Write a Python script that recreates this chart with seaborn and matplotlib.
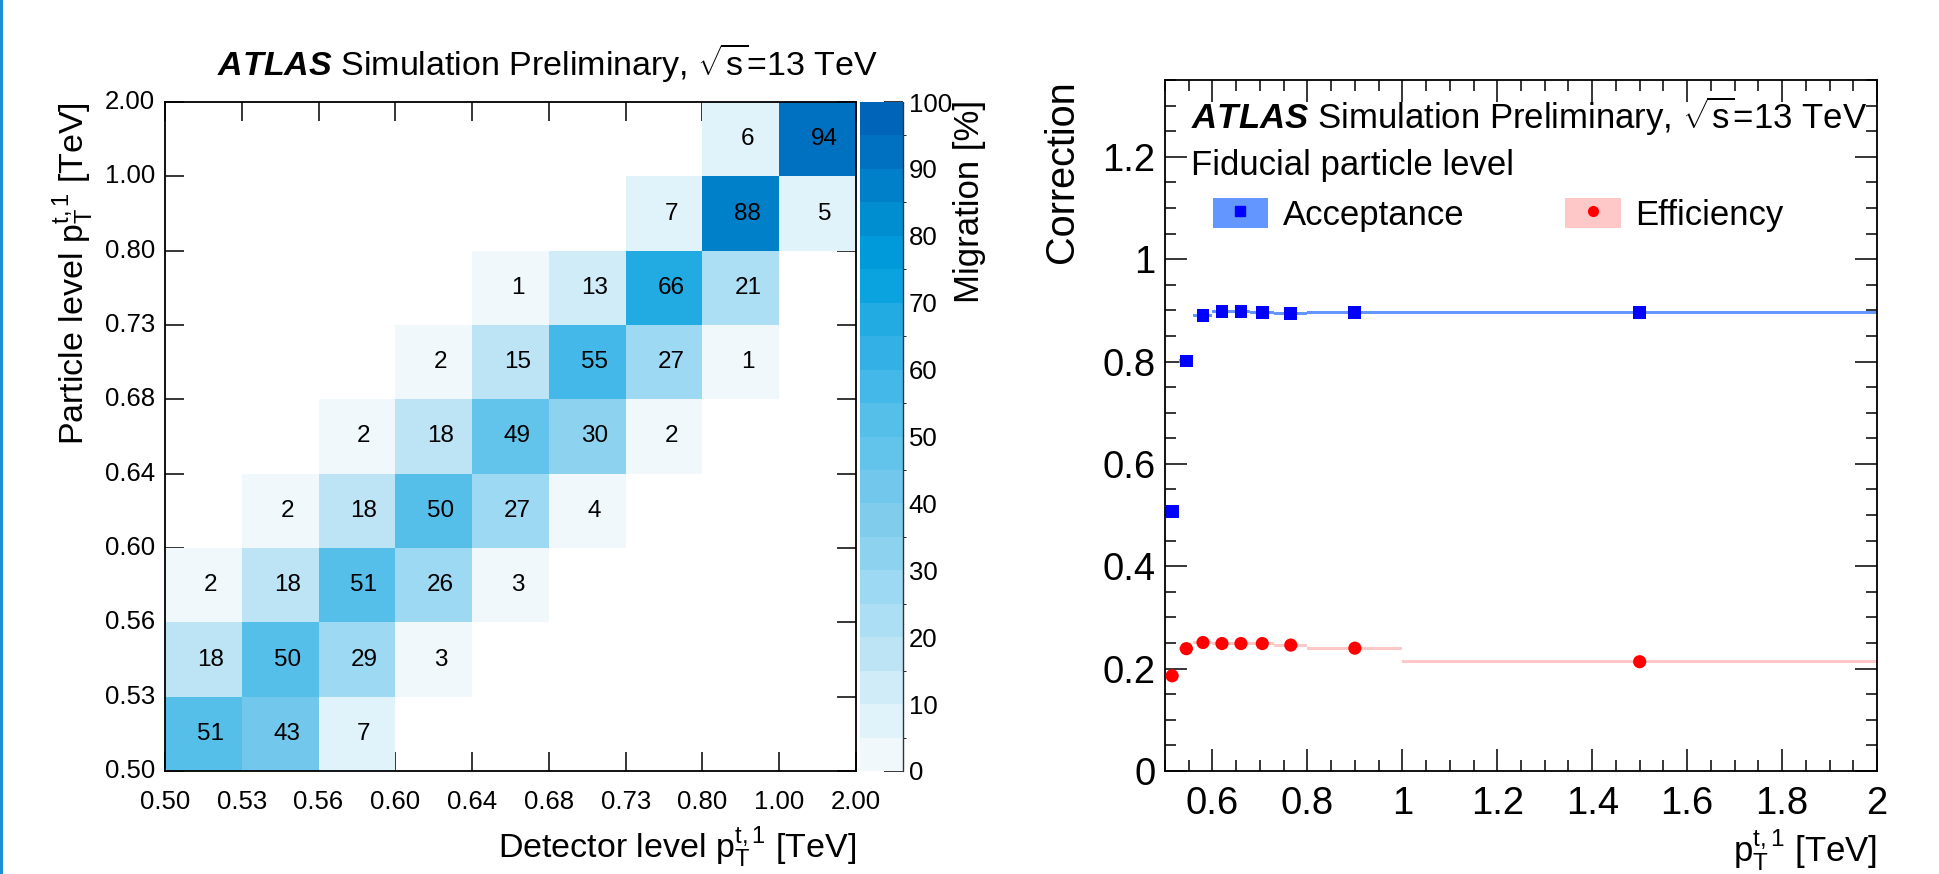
import numpy as np
import pandas as pd
import matplotlib
matplotlib.use("Agg")
import matplotlib.pyplot as plt
import seaborn as sns
from matplotlib.colors import ListedColormap, BoundaryNorm
from matplotlib.patches import Patch, Rectangle
from matplotlib.lines import Line2D
from matplotlib.ticker import MultipleLocator, FormatStrFormatter
from matplotlib.transforms import ScaledTranslation

# ---------------------------------------------------------------- data
bin_edges = [0.50, 0.53, 0.56, 0.60, 0.64, 0.68, 0.73, 0.80, 1.00, 2.00]
edge_labels = ["0.50", "0.53", "0.56", "0.60", "0.64", "0.68", "0.73", "0.80", "1.00", "2.00"]

# migration matrix [%]: rows = particle-level bin (low -> high), cols = detector-level bin
migration = [
    [51, 43, 7, 0, 0, 0, 0, 0, 0],
    [18, 50, 29, 3, 0, 0, 0, 0, 0],
    [2, 18, 51, 26, 3, 0, 0, 0, 0],
    [0, 2, 18, 50, 27, 4, 0, 0, 0],
    [0, 0, 2, 18, 49, 30, 2, 0, 0],
    [0, 0, 0, 2, 15, 55, 27, 1, 0],
    [0, 0, 0, 0, 1, 13, 66, 21, 0],
    [0, 0, 0, 0, 0, 0, 7, 88, 5],
    [0, 0, 0, 0, 0, 0, 0, 6, 94],
]

acceptance = [0.507, 0.801, 0.890, 0.898, 0.898, 0.895, 0.894, 0.895, 0.895]
acceptance_err = [0.003, 0.003, 0.003, 0.003, 0.003, 0.003, 0.003, 0.003, 0.003]
efficiency = [0.186, 0.239, 0.251, 0.249, 0.249, 0.249, 0.246, 0.240, 0.2135]
efficiency_err = [0.003, 0.003, 0.003, 0.003, 0.003, 0.003, 0.003, 0.003, 0.003]

# 20-step palette for the migration scale (0 -> 100 %)
palette = [
    "#f0f8fc", "#e0f3fb", "#d0ecf8", "#bde4f5", "#addff4",
    "#9dd9f2", "#8dd3f0", "#7fcced", "#72c8ec", "#62c3eb",
    "#55bfea", "#44b8e8", "#33b0e5", "#22aae3", "#0aa3e0",
    "#009ada", "#008ed0", "#0080c8", "#0070c0", "#0064b8",
]

# ---------------------------------------------------------------- style
sns.set_style("ticks")
plt.rcParams["font.family"] = ["Liberation Sans", "DejaVu Sans"]
plt.rcParams["mathtext.fontset"] = "custom"
plt.rcParams["mathtext.rm"] = "Liberation Sans"
plt.rcParams["mathtext.it"] = "Liberation Sans:italic"
plt.rcParams["mathtext.bf"] = "Liberation Sans:bold"
plt.rcParams["mathtext.bfit"] = "Liberation Sans:bold:italic"
plt.rcParams["text.color"] = "black"
plt.rcParams["axes.labelcolor"] = "black"
plt.rcParams["xtick.color"] = "black"
plt.rcParams["ytick.color"] = "black"

W, H = 1939, 874
fig = plt.figure(figsize=(W / 100, H / 100), dpi=100)

def box(x0, y0, x1, y1):
    return [x0 / W, 1 - y1 / H, (x1 - x0) / W, (y1 - y0) / H]

ax = fig.add_axes(box(165, 102, 856, 771))
cax = fig.add_axes(box(860, 102, 903, 771))
ax2 = fig.add_axes(box(1165, 80, 1877, 771))

ptT = r"$\mathrm{p}_{\mathrm{T}}^{\mathrm{t,1}}$"
atlas = r"$\mathbfit{ATLAS}$ Simulation Preliminary, $\sqrt{\mathrm{s}}$=13 TeV"

# ---------------------------------------------------------------- migration matrix
mig = pd.DataFrame(migration)
cmap = ListedColormap(palette)
norm = BoundaryNorm(np.arange(0, 101, 5), cmap.N)

sns.heatmap(mig, ax=ax, cbar_ax=cax, cmap=cmap, norm=norm, mask=(mig == 0),
            annot=True, fmt="d", annot_kws=dict(size=17.5, color="black"),
            linewidths=0, cbar_kws=dict(ticks=list(range(0, 101, 10))))

n = len(bin_edges) - 1
ax.set_xlim(0, n)
ax.set_ylim(0, n)
ax.set_xticks(range(n + 1))
ax.set_yticks(range(n + 1))
ax.set_xticklabels(edge_labels, rotation=0)
ax.set_yticklabels(edge_labels, rotation=0, va="center")
for s in ax.spines.values():
    s.set_visible(True)
    s.set_linewidth(1.3)
    s.set_color("black")
ax.tick_params(axis="both", direction="in", length=14, width=1.1,
               top=True, right=True, bottom=True, left=True, labelsize=18.5)
ax.tick_params(axis="x", pad=14)
ax.tick_params(axis="y", pad=7)

shift = ScaledTranslation(0.07, 0, fig.dpi_scale_trans)
for t in ax.texts:
    t.set_transform(t.get_transform() + shift)

ax.set_xlabel("Detector level " + ptT + " [TeV]", fontsize=24.5, loc="right")
ax.xaxis.set_label_coords(1.0, -0.08)
ax.set_ylabel("Particle level " + ptT + " [TeV]", fontsize=24.5, loc="top")
ax.yaxis.set_label_coords(-0.10, 1.0)

fig.text(217 / W, 1 - 76 / H, atlas, fontsize=24.5, ha="left", va="baseline")

cbar = ax.collections[0].colorbar
cbar.outline.set_visible(False)
cax.tick_params(axis="y", direction="in", length=14, width=1.1, labelsize=18.5,
                pad=4, right=True, left=False)
cax.plot([1, 1], [0, 1], transform=cax.transAxes, color="#333333", lw=1.0,
         clip_on=False)
fig.text(969 / W, 1 - 100 / H, "Migration [%]", fontsize=25, rotation=90,
         ha="center", va="top")

# ---------------------------------------------------------------- corrections
lo = np.array(bin_edges[:-1])
width = np.diff(bin_edges)
centers = lo + width / 2
acc = np.array(acceptance)
eff = np.array(efficiency)
acc_e = np.array(acceptance_err)
eff_e = np.array(efficiency_err)

acc_band = "#6496ff"
eff_band = "#ffc8c8"

ax2.bar(lo, 2 * acc_e, width=width, bottom=acc - acc_e, align="edge",
        color=acc_band, linewidth=0, zorder=2)
ax2.bar(lo, 2 * eff_e, width=width, bottom=eff - eff_e, align="edge",
        color=eff_band, linewidth=0, zorder=2)
sns.scatterplot(x=centers, y=acc, marker="s", color="#0000ff", s=85,
                edgecolor="none", ax=ax2, zorder=3, legend=False)
sns.scatterplot(x=centers, y=eff, marker="o", color="#ff0000", s=90,
                edgecolor="none", ax=ax2, zorder=3, legend=False)

ax2.set_xlim(0.5, 2.0)
ax2.set_ylim(0, 1.35)
ax2.xaxis.set_major_locator(MultipleLocator(0.2))
ax2.xaxis.set_minor_locator(MultipleLocator(0.05))
ax2.yaxis.set_major_locator(MultipleLocator(0.2))
ax2.yaxis.set_minor_locator(MultipleLocator(0.05))
ax2.xaxis.set_major_formatter(FormatStrFormatter("%g"))
ax2.yaxis.set_major_formatter(FormatStrFormatter("%g"))
for s in ax2.spines.values():
    s.set_visible(True)
    s.set_linewidth(1.3)
    s.set_color("black")
ax2.tick_params(which="both", direction="in", top=True, right=True,
                bottom=True, left=True, width=1.1)
ax2.tick_params(which="major", length=16, labelsize=27.5)
ax2.tick_params(which="minor", length=8)
ax2.tick_params(axis="x", which="major", pad=11)
ax2.tick_params(axis="y", which="major", pad=7)

ax2.set_xlabel(ptT + " [TeV]", fontsize=25, loc="right")
ax2.xaxis.set_label_coords(1.0, -0.081)
ax2.set_ylabel("Correction", fontsize=28.5, loc="top")
ax2.yaxis.set_label_coords(-0.118, 1.0)

ax2.text(0.037, 0.929, atlas, transform=ax2.transAxes, fontsize=25,
         ha="left", va="baseline")
ax2.text(0.037, 0.8625, "Fiducial particle level", transform=ax2.transAxes,
         fontsize=25, ha="left", va="baseline")

handles = [
    (Patch(facecolor=acc_band, edgecolor="none"),
     Line2D([], [], marker="s", color="#0000ff", ls="none", ms=7)),
    (Patch(facecolor=eff_band, edgecolor="none"),
     Line2D([], [], marker="o", color="#ff0000", ls="none", ms=7)),
]
ax2.legend(handles, ["Acceptance", "Efficiency"], loc="center left",
           bbox_to_anchor=(0.067, 0.805), ncol=2, frameon=False, fontsize=25,
           handlelength=1.6, handleheight=0.95, handletextpad=0.42,
           columnspacing=2.9, borderaxespad=0, borderpad=0)

# thin accent strip on the left border
fig.add_artist(Rectangle((0, 0), 3 / W, 1, transform=fig.transFigure,
                         color="#1a8fd6", linewidth=0))

fig.savefig("out.png", dpi=100)
